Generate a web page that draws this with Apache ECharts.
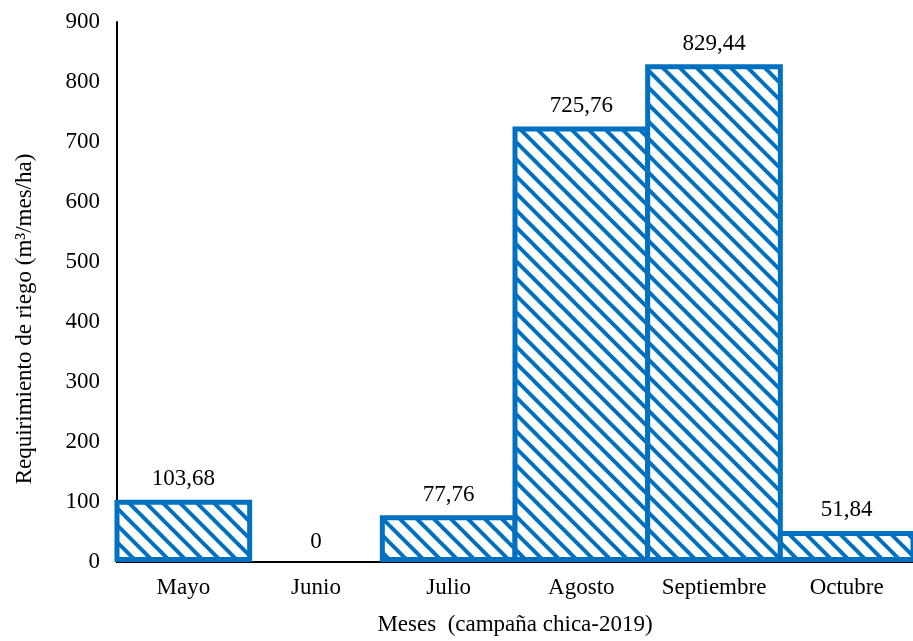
<!DOCTYPE html>
<html>
<head>
<meta charset="utf-8">
<script src="https://cdn.jsdelivr.net/npm/echarts@6/dist/echarts.min.js"></script>
<style>html,body{margin:0;padding:0;background:#fff}#c{width:913px;height:641px}</style>
</head>
<body>
<div id="c"></div>
<script>
var categories = ['Mayo', 'Junio', 'Julio', 'Agosto', 'Septiembre', 'Octubre'];
var values = [103.68, 0, 77.76, 725.76, 829.44, 51.84];
var valueLabels = ['103,68', '0', '77,76', '725,76', '829,44', '51,84'];

function makePattern() {
  var s = 17;
  var cv = document.createElement('canvas');
  cv.width = s; cv.height = s;
  var ctx = cv.getContext('2d');
  ctx.fillStyle = '#ffffff';
  ctx.fillRect(0, 0, s, s);
  ctx.strokeStyle = '#0070C0';
  ctx.lineWidth = 4;
  [-s, 0, s].forEach(function (o) {
    ctx.beginPath();
    ctx.moveTo(o - 1, -1);
    ctx.lineTo(o + s + 1, s + 1);
    ctx.stroke();
  });
  return cv;
}
var pat = makePattern();
var font = 'Liberation Serif';
var fs = 23;
var W = 913, H = 641;
var gridLeft = 117, gridRight = 0, gridTop = 22, gridBottom = 78;
var bandW = (W - gridLeft - gridRight) / categories.length;
var bw = 5;
var chart = echarts.init(document.getElementById('c'));
chart.setOption({
  animation: false,
  grid: { left: gridLeft, right: gridRight, top: gridTop, bottom: gridBottom },
  graphic: [{
    type: 'text',
    x: 25, y: 319,
    rotation: Math.PI / 2,
    style: {
      text: 'Requirimiento de riego (m³/mes/ha)',
      font: fs + 'px "' + font + '"',
      fill: '#000',
      textAlign: 'center',
      textVerticalAlign: 'middle'
    }
  }],
  xAxis: {
    type: 'category',
    data: categories,
    axisLine: { lineStyle: { color: '#000', width: 2 } },
    axisTick: { show: false },
    axisLabel: { color: '#000', fontFamily: font, fontSize: fs, margin: 14, interval: 0 },
    name: 'Meses  (campaña chica-2019)',
    nameLocation: 'middle',
    nameGap: 51,
    nameTextStyle: { color: '#000', fontFamily: font, fontSize: fs }
  },
  yAxis: {
    type: 'value',
    min: 0, max: 900, interval: 100,
    axisLine: { show: true, lineStyle: { color: '#000', width: 2 } },
    axisTick: { show: false },
    splitLine: { show: false },
    axisLabel: { color: '#000', fontFamily: font, fontSize: fs, margin: 17 }
  },
  series: [{
    type: 'bar',
    barWidth: bandW + bw,
    data: values.map(function (v) {
      return {
        value: v,
        itemStyle: v === 0 ? { borderWidth: 0, color: 'rgba(0,0,0,0)' } : {}
      };
    }),
    itemStyle: {
      color: { image: pat, repeat: 'repeat' },
      borderColor: '#0070C0',
      borderWidth: bw
    },
    label: {
      show: true,
      position: 'top',
      distance: 9,
      color: '#000',
      fontFamily: font,
      fontSize: fs,
      formatter: function (p) { return valueLabels[p.dataIndex]; }
    }
  }]
});
</script>
</body>
</html>
